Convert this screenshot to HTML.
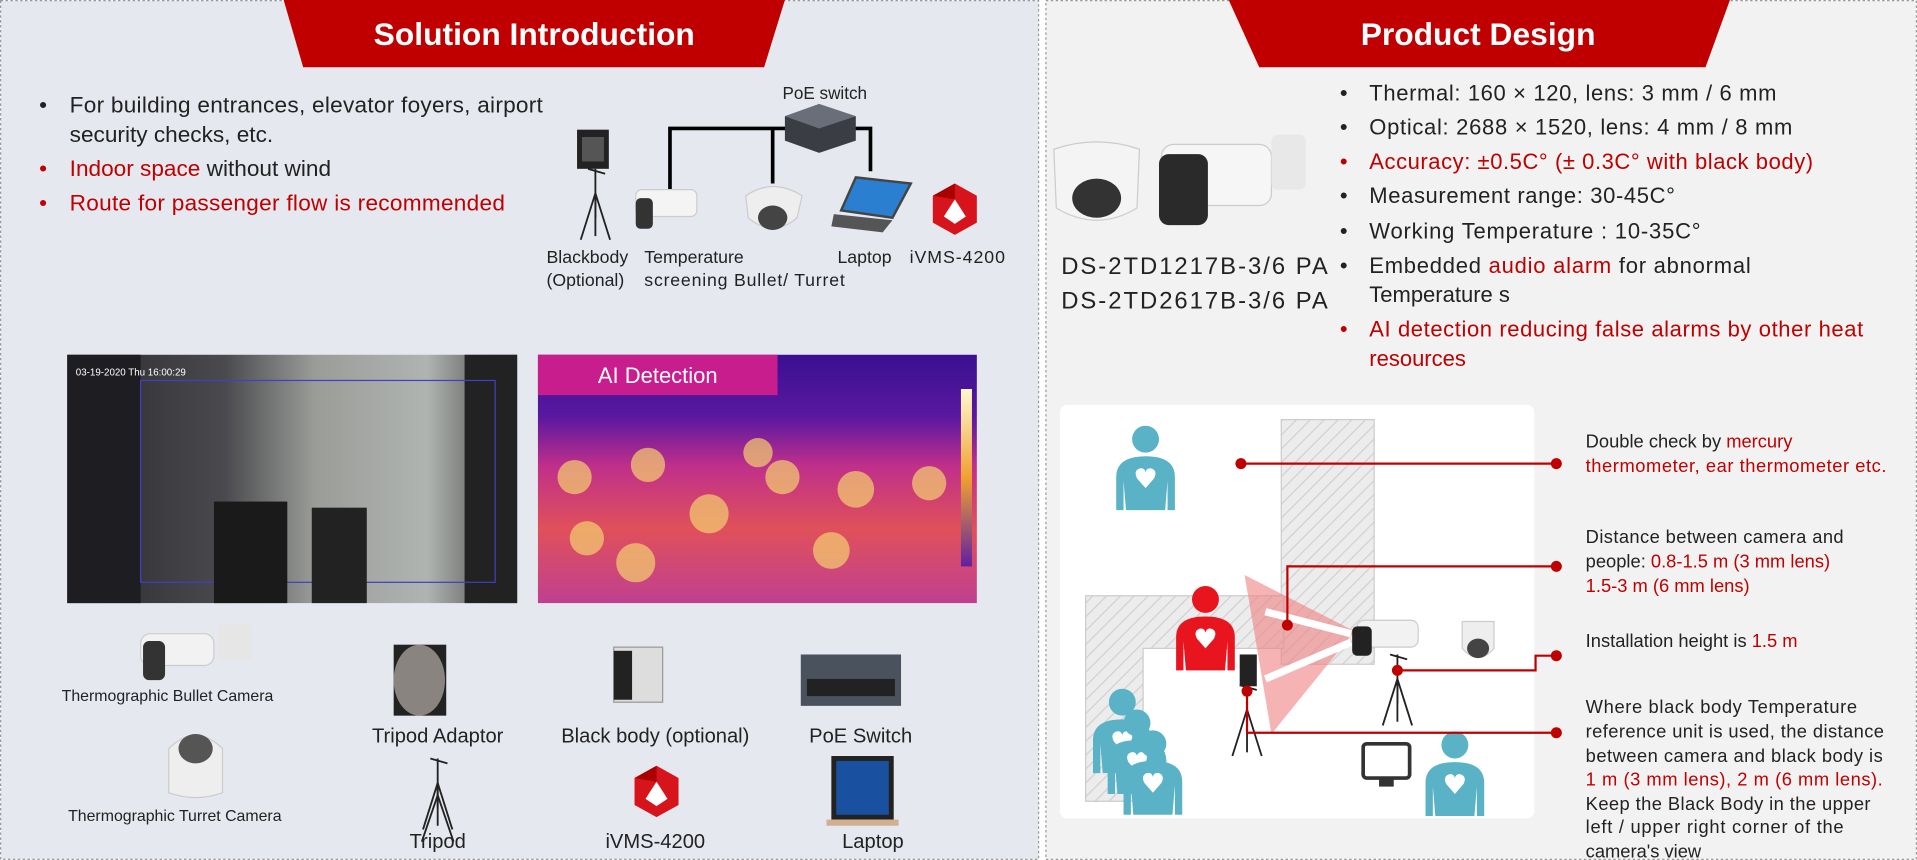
<!DOCTYPE html>
<html><head><meta charset="utf-8"><style>
html,body{margin:0;padding:0;background:#fff;}
svg{display:block;}
text{font-family:"Liberation Sans",sans-serif;}
</style></head><body>
<svg width="1917" height="860" viewBox="0 0 1568 703" preserveAspectRatio="none" xmlns="http://www.w3.org/2000/svg">
<defs>
<pattern id="hatch" width="8" height="8" patternUnits="userSpaceOnUse" patternTransform="rotate(45)">
<rect width="8" height="8" fill="#ececec"/><line x1="0" y1="0" x2="0" y2="8" stroke="#d0d0d0" stroke-width="2"/>
</pattern>
<linearGradient id="therm" x1="0" y1="0" x2="0" y2="1">
<stop offset="0" stop-color="#3a1090"/><stop offset="0.25" stop-color="#5a18a0"/><stop offset="0.45" stop-color="#c0308a"/><stop offset="0.7" stop-color="#e0505a"/><stop offset="1" stop-color="#c04090"/></linearGradient>
<linearGradient id="photo" x1="0" y1="0" x2="1" y2="0">
<stop offset="0" stop-color="#2a2a2e"/><stop offset="0.35" stop-color="#4a4a4e"/><stop offset="0.55" stop-color="#9a9c98"/><stop offset="0.8" stop-color="#b0b4b0"/><stop offset="1" stop-color="#3a3a3a"/></linearGradient>
<linearGradient id="scale" x1="0" y1="0" x2="0" y2="1"><stop offset="0" stop-color="#fff8d0"/><stop offset="0.5" stop-color="#f0a030"/><stop offset="1" stop-color="#6020a0"/></linearGradient>
<g id="pb"><circle cx="0" cy="-26" r="11"/><path d="M-24,32 L-24,5 Q-24,-12 0,-12 Q24,-12 24,5 L24,32 L18,32 L18,8 L16,32 L-16,32 L-18,8 L-18,32 Z"/><path d="M0,14 L-7,6 Q-10,0 -5,-2 Q-1,-3 0,1 Q1,-3 5,-2 Q10,0 7,6 Z" fill="#fff"/></g>
<g id="ivms"><polygon points="0,-21 18,-11 18,11 0,21 -18,11 -18,-11" fill="#d7141c"/><polygon points="0,-8 9,6 0,12 -9,6" fill="#fff"/><polygon points="-18,-11 0,-21 0,-8" fill="#a00"/></g>
<g id="tripod" stroke="#222" stroke-width="1.5" fill="none"><line x1="0" y1="0" x2="0" y2="40"/><line x1="0" y1="20" x2="-12" y2="58"/><line x1="0" y1="20" x2="12" y2="58"/><line x1="0" y1="20" x2="0" y2="55"/><line x1="-6" y1="0" x2="8" y2="4"/></g>
</defs>
<rect width="1568" height="703" fill="#fff"/>
<!-- left panel -->
<rect x="0.5" y="0.5" width="849" height="702" fill="#e6e8f0" stroke="#999" stroke-dasharray="2,2"/>
<polygon points="232,0 642,0 625,55 248,55" fill="#c00000"/>
<text x="437" y="37" font-size="26" font-weight="bold" fill="#fff" text-anchor="middle">Solution Introduction</text>
<g font-size="18.5" fill="#222">
<text x="32" y="92">•</text><text x="57" y="92" textLength="387">For building entrances, elevator foyers, airport</text>
<text x="57" y="116">security checks, etc.</text>
<text x="32" y="144" fill="#c00000">•</text><text x="57" y="144"><tspan fill="#c00000">Indoor space</tspan> without wind</text>
<text x="32" y="172" fill="#c00000">•</text><text x="57" y="172" fill="#c00000" textLength="356">Route for passenger flow is recommended</text>
</g>
<!-- PoE diagram -->
<text x="640" y="81" font-size="14" fill="#222">PoE switch</text>
<g stroke="#000" stroke-width="3" fill="none"><polyline points="548,155 548,105 712,105 712,140"/><line x1="632" y1="105" x2="632" y2="150"/></g>
<polygon points="642,95 670,85 700,95 700,115 670,125 642,115" fill="#3a3d44"/><polygon points="642,95 670,85 700,95 670,105" fill="#6a6e78"/>
<rect x="472" y="106" width="26" height="32" fill="#222"/><rect x="476" y="112" width="18" height="20" fill="#555"/>
<use href="#tripod" x="487" y="138"/>
<rect x="520" y="155" width="50" height="22" rx="5" fill="#f4f4f4" stroke="#ccc"/><rect x="520" y="162" width="14" height="25" rx="4" fill="#333"/>
<path d="M610,160 Q632,145 656,160 L652,178 Q632,195 612,178 Z" fill="#eee" stroke="#ccc"/><ellipse cx="632" cy="178" rx="12" ry="10" fill="#444"/>
<polygon points="700,145 745,150 730,178 688,172" fill="#2a7fd0" stroke="#444" stroke-width="2"/><polygon points="682,175 730,180 722,190 680,185" fill="#555"/>
<use href="#ivms" x="781" y="171"/>
<g font-size="14.5" fill="#222"><text x="447" y="215">Blackbody</text><text x="447" y="234">(Optional)</text><text x="527" y="215">Temperature</text><text x="527" y="234" textLength="164">screening Bullet/ Turret</text><text x="685" y="215">Laptop</text><text x="744" y="215" textLength="78">iVMS-4200</text></g>
<!-- photos -->
<rect x="55" y="290" width="368" height="203" fill="url(#photo)"/>
<rect x="55" y="290" width="60" height="203" fill="#1e1e22"/><rect x="380" y="290" width="43" height="203" fill="#222"/>
<rect x="115" y="311" width="290" height="165" fill="none" stroke="#4040c0"/>
<rect x="175" y="410" width="60" height="83" fill="#1a1a1a"/><rect x="255" y="415" width="45" height="78" fill="#222"/>
<text x="62" y="307" font-size="8" fill="#fff" font-family="Liberation Mono">03-19-2020 Thu 16:00:29</text>
<rect x="440" y="290" width="359" height="203" fill="url(#therm)"/>
<g fill="#f5d070" opacity="0.7"><circle cx="470" cy="390" r="14"/><circle cx="530" cy="380" r="14"/><circle cx="580" cy="420" r="16"/><circle cx="640" cy="390" r="14"/><circle cx="700" cy="400" r="15"/><circle cx="760" cy="395" r="14"/><circle cx="520" cy="460" r="16"/><circle cx="680" cy="450" r="15"/><circle cx="620" cy="370" r="12"/><circle cx="480" cy="440" r="14"/></g>
<rect x="786" y="318" width="9" height="145" fill="url(#scale)"/>
<rect x="440" y="290" width="196" height="33" fill="#c81d8c"/>
<text x="538" y="313" font-size="18" fill="#fff" text-anchor="middle">AI Detection</text>
<!-- products -->
<rect x="115" y="518" width="60" height="26" rx="8" fill="#f2f2f2" stroke="#ccc"/><rect x="117" y="524" width="18" height="32" rx="5" fill="#333"/><rect x="178" y="510" width="28" height="30" rx="4" fill="#e6e6e6"/>
<text x="137" y="573" font-size="13" fill="#222" text-anchor="middle">Thermographic Bullet Camera</text>
<path d="M138,612 Q160,590 182,612 L182,648 Q160,656 138,648 Z" fill="#eee" stroke="#ccc"/><ellipse cx="160" cy="612" rx="14" ry="12" fill="#555"/>
<text x="143" y="671" font-size="13" fill="#222" text-anchor="middle">Thermographic Turret Camera</text>
<rect x="322" y="527" width="43" height="58" fill="#222"/><ellipse cx="343" cy="556" rx="21" ry="29" fill="#8a8480"/>
<text x="358" y="607" font-size="16.5" fill="#222" text-anchor="middle">Tripod Adaptor</text>
<use href="#tripod" x="358" y="620"/>
<g stroke="#222" stroke-width="1.5"><line x1="358" y1="650" x2="345" y2="688"/><line x1="358" y1="650" x2="371" y2="688"/></g>
<text x="358" y="693" font-size="16.5" fill="#222" text-anchor="middle">Tripod</text>
<rect x="502" y="529" width="40" height="45" fill="#ddd" stroke="#999"/><rect x="502" y="532" width="15" height="40" fill="#222"/>
<text x="536" y="607" font-size="16.5" fill="#222" text-anchor="middle">Black body (optional)</text>
<use href="#ivms" x="537" y="647"/>
<text x="536" y="693" font-size="16.5" fill="#222" text-anchor="middle">iVMS-4200</text>
<rect x="655" y="535" width="82" height="42" fill="#4a525e"/><rect x="660" y="555" width="72" height="14" fill="#222"/>
<text x="704" y="607" font-size="16.5" fill="#222" text-anchor="middle">PoE Switch</text>
<rect x="680" y="618" width="51" height="52" fill="#222"/><rect x="684" y="622" width="43" height="44" fill="#1a50a0"/><rect x="676" y="670" width="59" height="5" fill="#d0b090"/>
<text x="714" y="693" font-size="16.5" fill="#222" text-anchor="middle">Laptop</text>
<!-- right panel -->
<rect x="855.5" y="0.5" width="712" height="702" fill="#f2f2f2" stroke="#999" stroke-dasharray="2,2"/>
<polygon points="1005,0 1415,0 1395,55 1030,55" fill="#c00000"/>
<text x="1209" y="37" font-size="26" font-weight="bold" fill="#fff" text-anchor="middle">Product Design</text>
<path d="M862,122 Q897,110 932,122 L930,170 Q897,190 864,170 Z" fill="#f4f4f4" stroke="#ccc"/><ellipse cx="897" cy="162" rx="20" ry="16" fill="#333"/>
<rect x="950" y="118" width="90" height="50" rx="10" fill="#f6f6f6" stroke="#ccc"/><rect x="948" y="126" width="40" height="58" rx="8" fill="#2a2a2a"/><rect x="1040" y="110" width="28" height="45" rx="5" fill="#e8e8e8"/>
<text x="868" y="224" font-size="19.5" fill="#222" textLength="218">DS-2TD1217B-3/6 PA</text>
<text x="868" y="252" font-size="19.5" fill="#222" textLength="218">DS-2TD2617B-3/6 PA</text>
<g font-size="18" fill="#222">
<text x="1096" y="82">•</text><text x="1120" y="82" textLength="333">Thermal: 160 × 120, lens: 3 mm / 6 mm</text>
<text x="1096" y="110">•</text><text x="1120" y="110" textLength="346">Optical: 2688 × 1520, lens: 4 mm / 8 mm</text>
<text x="1096" y="138" fill="#c00000">•</text><text x="1120" y="138" fill="#c00000" textLength="363">Accuracy: ±0.5C° (± 0.3C° with black body)</text>
<text x="1096" y="166">•</text><text x="1120" y="166" textLength="250">Measurement range: 30-45C°</text>
<text x="1096" y="195">•</text><text x="1120" y="195" textLength="271">Working Temperature : 10-35C°</text>
<text x="1096" y="223">•</text><text x="1120" y="223" textLength="312">Embedded <tspan fill="#c00000">audio alarm</tspan> for abnormal</text>
<text x="1120" y="247">Temperature s</text>
<text x="1096" y="275" fill="#c00000">•</text><text x="1120" y="275" fill="#c00000" textLength="404">AI detection reducing false alarms by other heat</text>
<text x="1120" y="299" fill="#c00000">resources</text>
</g>
<!-- diagram -->
<rect x="867" y="331" width="388" height="338" rx="6" fill="#fff"/>
<rect x="1048" y="343" width="76" height="200" fill="url(#hatch)" stroke="#ccc"/>
<path d="M888,487 L1050,487 L1050,530 L935,530 L935,655 L888,655 Z" fill="url(#hatch)" stroke="#ccc"/>
<polygon points="1108,516 1018,470 1040,600" fill="#f08080" opacity="0.6"/>
<g stroke="#fff" stroke-width="6"><line x1="1105" y1="518" x2="1035" y2="500"/><line x1="1105" y1="525" x2="1035" y2="555"/></g>
<use href="#pb" x="986" y="516" fill="#e8141e"/>
<g fill="#5ab2c6"><use href="#pb" x="937" y="385"/><use href="#pb" x="918" y="600"/><use href="#pb" x="930" y="617"/><use href="#pb" x="943" y="634"/><use href="#pb" x="1190" y="635"/></g>
<rect x="1014" y="535" width="14" height="26" fill="#222"/>
<use href="#tripod" x="1020" y="560"/>
<rect x="1110" y="507" width="50" height="22" rx="6" fill="#f2f2f2" stroke="#ccc"/><rect x="1106" y="512" width="16" height="24" rx="4" fill="#222"/>
<use href="#tripod" x="1143" y="535"/>
<path d="M1196,508 L1222,508 L1222,530 Q1209,545 1196,530 Z" fill="#eee" stroke="#ccc"/><ellipse cx="1209" cy="530" rx="9" ry="8" fill="#444"/>
<rect x="1115" y="608" width="38" height="28" rx="3" fill="none" stroke="#333" stroke-width="3"/><rect x="1128" y="636" width="12" height="7" fill="#333"/>
<g stroke="#c00000" stroke-width="1.8" fill="none">
<line x1="1015" y1="379" x2="1273" y2="379"/>
<polyline points="1053,511 1053,463 1273,463"/>
<polyline points="1143,548 1256,548 1256,536 1273,536"/>
<polyline points="1020,565 1020,599 1273,599"/>
</g>
<g fill="#c00000"><circle cx="1015" cy="379" r="4.5"/><circle cx="1273" cy="379" r="4.5"/><circle cx="1053" cy="511" r="4.5"/><circle cx="1273" cy="463" r="4.5"/><circle cx="1143" cy="548" r="4.5"/><circle cx="1273" cy="536" r="4.5"/><circle cx="1020" cy="565" r="4.5"/><circle cx="1273" cy="599" r="4.5"/></g>
<g font-size="15" fill="#222">
<text x="1297" y="366">Double check by <tspan fill="#c00000">mercury</tspan></text>
<text x="1297" y="386" fill="#c00000" textLength="246">thermometer, ear thermometer etc.</text>
<text x="1297" y="444" textLength="211">Distance between camera and</text>
<text x="1297" y="464">people: <tspan fill="#c00000">0.8-1.5 m (3 mm lens)</tspan></text>
<text x="1297" y="484" fill="#c00000">1.5-3 m (6 mm lens)</text>
<text x="1297" y="529">Installation height is <tspan fill="#c00000">1.5 m</tspan></text>
<text x="1297" y="583" textLength="222">Where black body Temperature</text>
<text x="1297" y="603" textLength="244">reference unit is used, the distance</text>
<text x="1297" y="623" textLength="243">between camera and black body is</text>
<text x="1297" y="642" fill="#c00000" textLength="243">1 m (3 mm lens), 2 m (6 mm lens).</text>
<text x="1297" y="662" textLength="233">Keep the Black Body in the upper</text>
<text x="1297" y="681" textLength="211">left / upper right corner of the</text>
<text x="1297" y="701">camera's view</text>
</g>
</svg>
</body></html>
